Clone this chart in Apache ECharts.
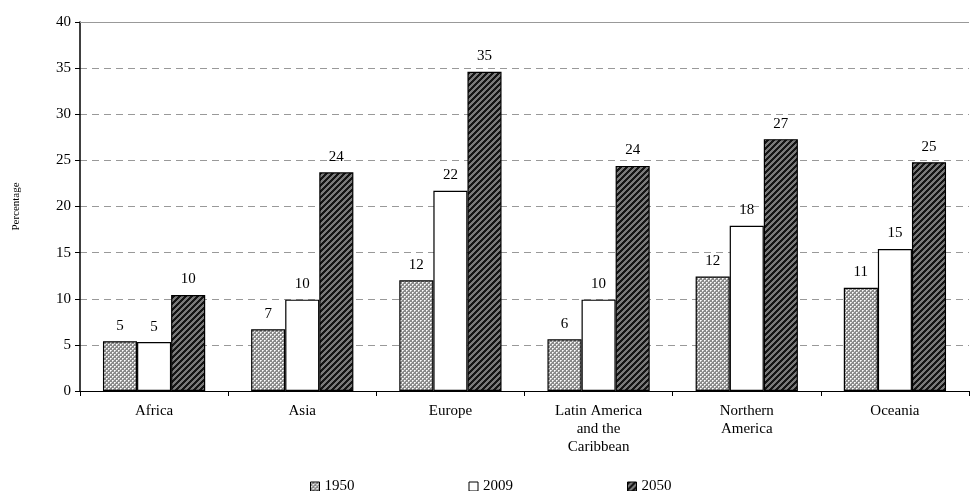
<!DOCTYPE html>
<html>
<head>
<meta charset="utf-8">
<script src="https://cdn.jsdelivr.net/npm/echarts@6/dist/echarts.min.js"></script>
<style>html,body{margin:0;padding:0;background:#fff;}#c{width:979px;height:491px;}</style>
</head>
<body>
<div id="c"></div>
<script>
const categories = ['Africa', 'Asia', 'Europe', 'Latin America\nand the\nCaribbean', 'Northern\nAmerica', 'Oceania'];
const seriesNames = ['1950', '2009', '2050'];
const values1950 = [5.4, 6.7, 12.0, 5.6, 12.4, 11.2];
const values2009 = [5.3, 9.9, 21.7, 9.9, 17.9, 15.4];
const values2050 = [10.4, 23.7, 34.6, 24.4, 27.3, 24.8];
const yTicks = [0, 5, 10, 15, 20, 25, 30, 35, 40];

function crossPattern() {
  const c = document.createElement('canvas');
  c.width = 4; c.height = 4;
  const g = c.getContext('2d');
  g.fillStyle = '#8a8a8a';
  g.fillRect(0, 0, 4, 4);
  g.fillStyle = '#ffffff';
  g.fillRect(0, 0, 1, 1);
  g.fillRect(2, 2, 1, 1);
  g.fillStyle = '#d8d8d8';
  g.fillRect(1, 0, 1, 1); g.fillRect(0, 1, 1, 1);
  g.fillRect(3, 2, 1, 1); g.fillRect(2, 3, 1, 1);
  return c;
}
function stripePattern() {
  const n = 6;
  const c = document.createElement('canvas');
  c.width = n; c.height = n;
  const g = c.getContext('2d');
  g.fillStyle = '#7a7a7a';
  g.fillRect(0, 0, n, n);
  g.fillStyle = '#151515';
  for (let y = 0; y < n; y++) {
    for (let x = 0; x < n; x++) {
      if (((x + y) % n) < 3) g.fillRect(x, y, 1, 1);
    }
  }
  return c;
}

const serif = '"Liberation Serif", "DejaVu Serif", serif';
const chart = echarts.init(document.getElementById('c'));
const labelOpt = {
  show: true, position: 'top', distance: 8,
  fontFamily: serif, fontSize: 15, color: '#000',
  formatter: p => String(Math.round(p.value))
};
const fills = [
  { image: crossPattern(), repeat: 'repeat' },
  '#ffffff',
  { image: stripePattern(), repeat: 'repeat' }
];
const datas = [values1950, values2009, values2050];
const series = seriesNames.map((name, i) => ({
  name: name,
  type: 'bar',
  data: datas[i],
  barGap: '0%',
  barCategoryGap: '31%',
  itemStyle: { color: fills[i], borderColor: '#000', borderWidth: 1.2 },
  label: labelOpt,
  emphasis: { disabled: true },
  markLine: i === 0 ? {
    silent: true, symbol: 'none', label: { show: false },
    lineStyle: { color: '#999', type: 'solid', width: 1 },
    data: [{ yAxis: yTicks[yTicks.length - 1] }]
  } : undefined
}));

chart.setOption({
  animation: false,
  backgroundColor: '#fff',
  grid: { left: 80, right: 10, top: 22, bottom: 100 },
  legend: {
    top: 474, left: 305,
    icon: 'rect',
    itemWidth: 9, itemHeight: 9, itemGap: 114,
    textStyle: { fontFamily: serif, fontSize: 15, color: '#000' },
    data: seriesNames.map((n, i) => ({ name: n, itemStyle: { color: fills[i], borderColor: '#000', borderWidth: 1 } }))
  },
  xAxis: {
    type: 'category',
    data: categories,
    axisLine: { lineStyle: { color: '#000', width: 1 } },
    axisTick: { show: true, alignWithLabel: false, length: 5, lineStyle: { color: '#000' } },
    axisLabel: { fontFamily: serif, fontSize: 15, color: '#000', lineHeight: 18, margin: 11 }
  },
  yAxis: {
    type: 'value', min: 0, max: 40, interval: 5,
    name: 'Percentage', nameLocation: 'middle', nameGap: 58, nameRotate: 90,
    nameTextStyle: { fontFamily: serif, fontSize: 11, color: '#000' },
    axisLine: { show: true, lineStyle: { color: '#000', width: 1.5 } },
    axisTick: { show: true, length: 5, lineStyle: { color: '#000' } },
    axisLabel: { fontFamily: serif, fontSize: 15, color: '#000', margin: 9 },
    splitLine: { show: true, lineStyle: { color: '#999', type: [7, 5], width: 1 } }
  },
  series: series
});
</script>
</body>
</html>
